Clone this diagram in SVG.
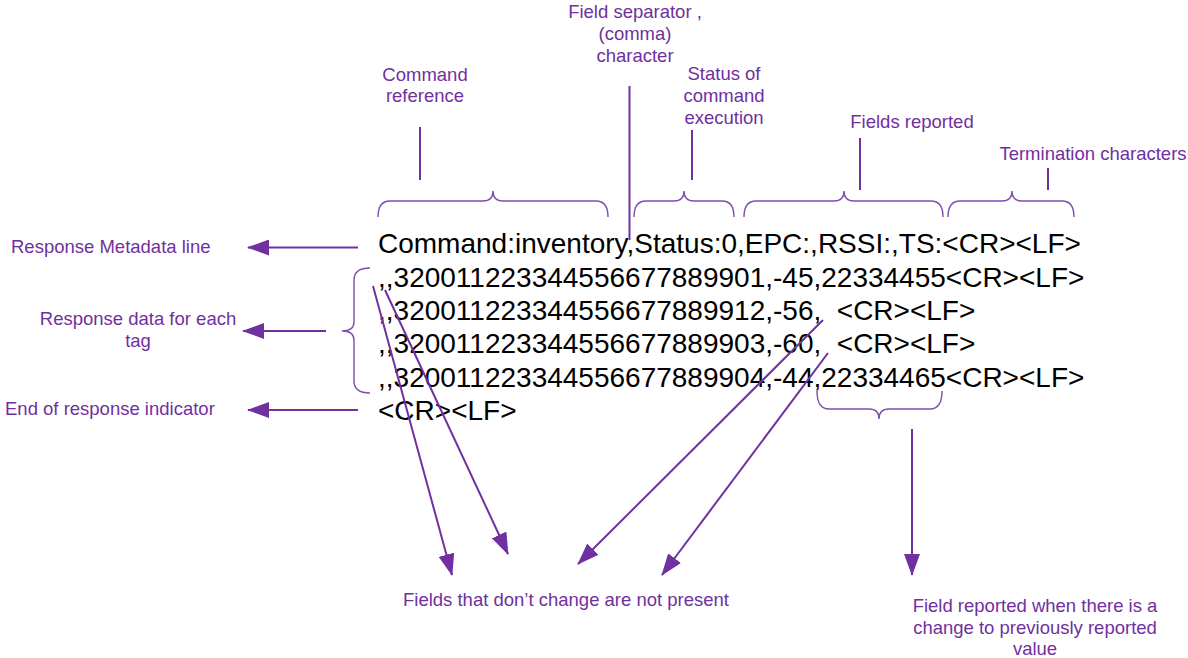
<svg xmlns="http://www.w3.org/2000/svg" width="1188" height="658" viewBox="0 0 1188 658">
<style>
.lbl{font-family:"Liberation Sans",Arial,sans-serif;font-size:18.5px;fill:#7030A0}
.c{text-anchor:middle}
.main{font-family:"Liberation Sans",Arial,sans-serif;font-size:28px;fill:#000;white-space:pre}
.ln{stroke:#7030A0;stroke-width:2;fill:none}
.br{stroke:#7F4FB0;stroke-width:1.4;fill:none}
.ar{stroke:#7030A0;stroke-width:2;fill:none;marker-end:url(#ah)}
</style>
<defs>
<marker id="ah" viewBox="0 0 22 16" refX="21" refY="8" markerWidth="22" markerHeight="16" markerUnits="userSpaceOnUse" orient="auto">
<path d="M0,0 L22,8 L0,16 z" fill="#7030A0"/>
</marker>
</defs>
<rect width="1188" height="658" fill="#fff"/>

<g id="response-text">
<text class="main" x="378" y="253">Command:inventory,Status:0,EPC:,RSSI:,TS:&lt;CR&gt;&lt;LF&gt;</text>
<text class="main" x="378" y="286.5">,,320011223344556677889901,-45,22334455&lt;CR&gt;&lt;LF&gt;</text>
<text class="main" x="378" y="320" xml:space="preserve">,,320011223344556677889912,-56,  &lt;CR&gt;&lt;LF&gt;</text>
<text class="main" x="378" y="353" xml:space="preserve">,,320011223344556677889903,-60,  &lt;CR&gt;&lt;LF&gt;</text>
<text class="main" x="378" y="386.5">,,320011223344556677889904,-44,22334465&lt;CR&gt;&lt;LF&gt;</text>
<text class="main" x="378" y="420">&lt;CR&gt;&lt;LF&gt;</text>
</g>

<g id="label-command-reference">
<text class="lbl c" x="425" y="81">Command</text>
<text class="lbl c" x="425" y="102">reference</text>
</g>
<g id="label-field-separator">
<text class="lbl c" x="635" y="18">Field separator ,</text>
<text class="lbl c" x="635" y="40">(comma)</text>
<text class="lbl c" x="635" y="62">character</text>
</g>
<g id="label-status">
<text class="lbl c" x="724" y="80">Status of</text>
<text class="lbl c" x="724" y="102">command</text>
<text class="lbl c" x="724" y="124">execution</text>
</g>
<g id="label-fields-reported">
<text class="lbl c" x="912" y="128">Fields reported</text>
</g>
<g id="label-termination">
<text class="lbl c" x="1093" y="160">Termination characters</text>
</g>
<g id="label-metadata">
<text class="lbl" x="11" y="253">Response Metadata line</text>
</g>
<g id="label-response-data">
<text class="lbl c" x="138" y="325">Response data for each</text>
<text class="lbl c" x="138" y="347">tag</text>
</g>
<g id="label-end">
<text class="lbl" x="5" y="415">End of response indicator</text>
</g>
<g id="label-fields-not-present">
<text class="lbl c" x="566" y="606">Fields that don’t change are not present</text>
</g>
<g id="label-field-reported-change">
<text class="lbl c" x="1035" y="612">Field reported when there is a</text>
<text class="lbl c" x="1035" y="634">change to previously reported</text>
<text class="lbl c" x="1035" y="655">value</text>
</g>

<g id="braces">
<path class="br" d="M378,217 Q378,201 390,201 L483,201 Q493,201 493,191 Q493,201 503,201 L596,201 Q608,201 608,217"/>
<path class="br" d="M634,217 Q634,201 646,201 L674,201 Q684,201 684,191 Q684,201 694,201 L722,201 Q734,201 734,217"/>
<path class="br" d="M744,217 Q744,201 756,201 L834,201 Q844,201 844,191 Q844,201 854,201 L931,201 Q943,201 943,217"/>
<path class="br" d="M948,217 Q948,201 960,201 L1002,201 Q1012,201 1012,191 Q1012,201 1022,201 L1062,201 Q1074,201 1074,217"/>
<path class="br" d="M370,268 Q354,268 354,280 L354,322 Q354,331 342,331 Q354,331 354,340 L354,381 Q354,393 370,393"/>
<path class="br" d="M817,391 Q817,409 829,409 L869,409 Q879,409 879,419 Q879,409 889,409 L930,409 Q942,409 942,391"/>
</g>

<g id="connectors">
<line class="ln" x1="420" y1="127" x2="420" y2="180"/>
<line class="ln" x1="629.5" y1="86" x2="629.5" y2="240"/>
<line class="ln" x1="692" y1="130" x2="692" y2="180"/>
<line class="ln" x1="860" y1="138" x2="860" y2="190"/>
<line class="ln" x1="1048" y1="168" x2="1048" y2="190"/>
<line class="ar" x1="358" y1="247.5" x2="248" y2="247.5"/>
<line class="ar" x1="326" y1="331" x2="243" y2="331"/>
<line class="ar" x1="358" y1="410" x2="248" y2="410"/>
<line class="ar" x1="912" y1="429" x2="912" y2="575"/>
<line class="ar" x1="373" y1="286" x2="452" y2="575"/>
<line class="ar" x1="385" y1="290" x2="508" y2="554"/>
<line class="ar" x1="823" y1="320" x2="578" y2="564"/>
<line class="ar" x1="828" y1="353" x2="662" y2="575"/>
</g>
</svg>
